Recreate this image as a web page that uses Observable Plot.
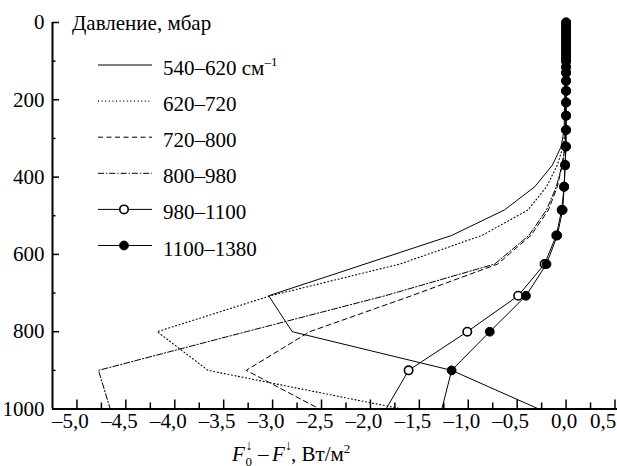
<!DOCTYPE html>
<html><head><meta charset="utf-8">
<script src="https://cdn.jsdelivr.net/npm/d3@7"></script>
<script src="https://cdn.jsdelivr.net/npm/@observablehq/plot@0.6"></script>
<style>
html,body{margin:0;padding:0;background:#fff;font-family:'Liberation Serif';}
#chart{width:617px;height:466px;overflow:hidden;}
#chart text{font-family:'Liberation Serif';}
</style></head><body><div id="chart"></div>
<script>
// ---- data (pressure, mbar ; flux difference, W/m2) ----
const SERIES_NAMES = ["540–620", "620–720", "720–800", "800–980", "980–1100", "1100–1380"];

const P_540 = [0, 278, 321, 369, 425, 485, 551, 707, 800, 900, 1000];
const F_540 = [0, -0.02, -0.05, -0.14, -0.32, -0.63, -1.17, -3.04, -2.80, -1.17, -0.28];

const P_620 = [0, 278, 321, 369, 425, 485, 551, 625, 707, 800, 900, 1000];
const F_620 = [0, -0.01, -0.03, -0.09, -0.20, -0.39, -0.86, -1.70, -3.02, -4.18, -3.66, -1.68];

const P_720 = [0, 321, 369, 425, 485, 551, 625, 707, 800, 900, 1000];
const F_720 = [0, -0.01, -0.04, -0.09, -0.18, -0.36, -0.70, -1.58, -2.62, -3.27, -2.52];

const P_800 = [0, 321, 369, 425, 485, 551, 625, 707, 800, 900, 1000];
const F_800 = [0, -0.01, -0.04, -0.10, -0.20, -0.38, -0.73, -1.85, -3.27, -4.78, -4.66];

const P_M = [0, 10, 20, 30, 40, 50, 60, 70, 80, 90, 100, 115, 130, 151, 177, 207, 241,
             278, 321, 369, 425, 485, 551, 625, 707, 800, 900, 1000];
const F_980 = [0, 0, 0, 0, 0, 0, 0, 0, 0, 0, 0, 0, 0, 0, 0, 0, 0,
               0, -0.005, -0.01, -0.02, -0.045, -0.10, -0.22, -0.49, -1.01, -1.61, -1.84];
const F_1100 = [0, 0, 0, 0, 0, 0, 0, 0, 0, 0, 0, 0, 0, 0, 0, 0, 0,
                0, 0, -0.01, -0.02, -0.035, -0.09, -0.20, -0.41, -0.78, -1.17, -1.27];

const X_MAJOR = [-5, -4.5, -4, -3.5, -3, -2.5, -2, -1.5, -1, -0.5, 0, 0.5];
const X_MINOR = [-4.75, -4.25, -3.75, -3.25, -2.75, -2.25, -1.75, -1.25, -0.75, -0.25, 0.25];
const Y_MAJOR = [0, 200, 400, 600, 800, 1000];
const Y_MINOR = [100, 300, 500, 700, 900];

const Y_TITLE = "Давление, мбар";

// ---- build tables ----
const rows = (P, F) => P.map((p, i) => ({p, f: F[i]}));
const r540 = rows(P_540, F_540), r620 = rows(P_620, F_620),
      r720 = rows(P_720, F_720), r800 = rows(P_800, F_800),
      r980 = rows(P_M, F_980), r1100 = rows(P_M, F_1100);

const DASH = {dotted: "1,2.6", dashed: "5,3.5", dashdot: "6,2,1.3,2"};
const fmtX = d => (d < 0 ? "–" : "") + Math.abs(d).toFixed(1).replace(".", ",");
const FS = 21;
const FF = "Liberation Serif";
const lineOpts = extra => ({x: "f", y: "p", stroke: "black", strokeWidth: 1, ...extra});

const svgPlot = Plot.plot({
  width: 617, height: 466,
  marginLeft: 52, marginRight: 2.5, marginTop: 22, marginBottom: 57.5,
  style: {fontFamily: FF, background: "white"},
  x: {domain: [-5.25, 0.5], label: null},
  y: {domain: [0, 1000], reverse: true, label: null},
  marks: [
    Plot.line(r540, lineOpts({})),
    Plot.line(r620, lineOpts({strokeDasharray: DASH.dotted, strokeWidth: 1.1})),
    Plot.line(r720, lineOpts({strokeDasharray: DASH.dashed})),
    Plot.line(r800, lineOpts({strokeDasharray: DASH.dashdot})),
    Plot.line(r980, lineOpts({})),
    Plot.line(r1100, lineOpts({})),
    Plot.dot(r980.filter(d => d.p < 1000), {x: "f", y: "p", r: 4.2, fill: "white", stroke: "black", strokeWidth: 1.6}),
    Plot.dot(r1100.filter(d => d.p < 1000), {x: "f", y: "p", r: 4.4, fill: "black", stroke: "black", strokeWidth: 1}),
    Plot.ruleX([-5.25], {strokeWidth: 2}),
    Plot.ruleY([1000], {strokeWidth: 2, insetRight: -3}),
    Plot.axisX(X_MAJOR, {anchor: "bottom", tickSize: -9, strokeWidth: 1.5, tickFormat: () => "", label: null}),
    Plot.axisX(X_MINOR, {anchor: "bottom", tickSize: -6, strokeWidth: 1.5, tickFormat: () => "", label: null}),
    Plot.axisX(X_MAJOR.filter(d => d < 0), {anchor: "bottom", tickSize: 0, tickPadding: 4, fontSize: FS, dx: -6.5, tickFormat: fmtX, label: null}),
    Plot.axisX(X_MAJOR.filter(d => d === 0), {anchor: "bottom", tickSize: 0, tickPadding: 4, fontSize: FS, dx: -2, tickFormat: fmtX, label: null}),
    Plot.axisX(X_MAJOR.filter(d => d > 0), {anchor: "bottom", tickSize: 0, tickPadding: 4, fontSize: FS, dx: -12, tickFormat: fmtX, label: null}),
    Plot.axisY(Y_MAJOR, {anchor: "left", tickSize: -7, strokeWidth: 1.5, tickFormat: () => "", label: null}),
    Plot.axisY(Y_MINOR, {anchor: "left", tickSize: -3.5, strokeWidth: 1.5, tickFormat: () => "", label: null}),
    Plot.axisY(Y_MAJOR, {anchor: "left", tickSize: 0, tickPadding: 8, fontSize: FS, tickFormat: d => String(d), label: null})
  ]
});

document.getElementById("chart").appendChild(svgPlot);
const svg = d3.select(svgPlot);

// y title
svg.append("text").attr("x", 72).attr("y", 30).attr("font-size", FS).attr("font-family", FF)
   .attr("text-anchor", "start").attr("fill", "black").text(Y_TITLE);

// legend
const LEG = [
  {dash: null, marker: null},
  {dash: DASH.dotted, marker: null},
  {dash: DASH.dashed, marker: null},
  {dash: DASH.dashdot, marker: null},
  {dash: null, marker: "open"},
  {dash: null, marker: "filled"}
];
const legG = svg.append("g").attr("text-anchor", "start");
LEG.forEach((s, i) => {
  const y = 65 + i * 36.1;
  const ln = legG.append("line").attr("x1", 98).attr("x2", 152).attr("y1", y).attr("y2", y)
    .attr("stroke", "black").attr("stroke-width", s.dash === DASH.dotted ? 1.1 : 1);
  if (s.dash) ln.attr("stroke-dasharray", s.dash);
  if (s.marker === "open") legG.append("circle").attr("cx", 124).attr("cy", y).attr("r", 4.2)
    .attr("fill", "white").attr("stroke", "black").attr("stroke-width", 1.6);
  if (s.marker === "filled") legG.append("circle").attr("cx", 124).attr("cy", y).attr("r", 4.4)
    .attr("fill", "black").attr("stroke", "black");
  const t = legG.append("text").attr("x", 163).attr("y", y + 10).attr("font-size", FS)
    .attr("font-family", FF).attr("text-anchor", "start").attr("fill", "black").text(SERIES_NAMES[i]);
  if (i === 0) {
    t.append("tspan").text(" см");
    t.append("tspan").attr("font-size", 13).attr("dy", -9).text("–1");
  }
});

// x label: F0↓ – F↓, Вт/м²
const xl = svg.append("text").attr("font-size", FS).attr("font-family", FF)
  .attr("text-anchor", "start").attr("fill", "black");
xl.append("tspan").attr("x", 232).attr("y", 461).attr("font-style", "italic").text("F");
xl.append("tspan").attr("x", 245.5).attr("y", 450).attr("font-size", 14).text("↓");
xl.append("tspan").attr("x", 245.5).attr("y", 466).attr("font-size", 13).text("0");
xl.append("tspan").attr("x", 258).attr("y", 461).text("–");
xl.append("tspan").attr("x", 272).attr("y", 461).attr("font-style", "italic").text("F");
xl.append("tspan").attr("x", 285).attr("y", 450).attr("font-size", 14).text("↓");
xl.append("tspan").attr("x", 291).attr("y", 461).text(", Вт/м");
xl.append("tspan").attr("y", 453).attr("font-size", 13).text("2");
</script></body></html>
